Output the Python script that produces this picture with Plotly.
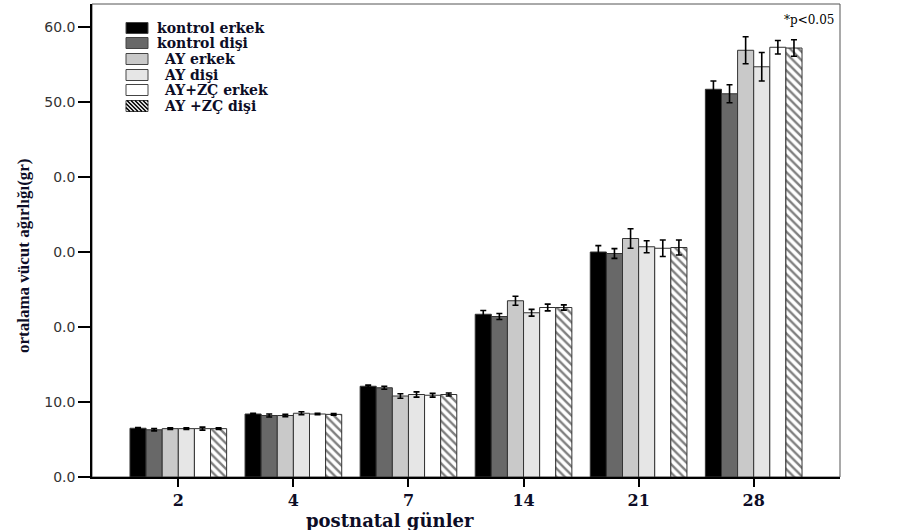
import plotly.graph_objects as go

days = ["2", "4", "7", "14", "21", "28"]
series_names = ["kontrol erkek", "kontrol dişi", "AY erkek", "AY  dişi", "AY+ZÇ erkek", "AY +ZÇ dişi"]

kontrol_erkek = [6.5, 8.4, 12.1, 21.7, 30.0, 51.7]
kontrol_disi = [6.3, 8.2, 11.9, 21.4, 29.8, 51.1]
ay_erkek = [6.45, 8.2, 10.8, 23.5, 31.8, 56.9]
ay_disi = [6.45, 8.5, 11.0, 21.9, 30.7, 54.7]
ay_zc_erkek = [6.45, 8.4, 10.9, 22.6, 30.5, 57.3]
ay_zc_disi = [6.45, 8.35, 11.0, 22.6, 30.6, 57.2]

err_kontrol_erkek = [0.1, 0.1, 0.15, 0.5, 0.85, 1.1]
err_kontrol_disi = [0.15, 0.2, 0.2, 0.4, 0.65, 1.2]
err_ay_erkek = [0.1, 0.15, 0.3, 0.6, 1.3, 1.8]
err_ay_disi = [0.1, 0.2, 0.35, 0.45, 0.8, 1.9]
err_ay_zc_erkek = [0.2, 0.1, 0.25, 0.45, 1.1, 0.9]
err_ay_zc_disi = [0.1, 0.1, 0.2, 0.35, 1.0, 1.1]

y_tickvals = [0, 10, 20, 30, 40, 50, 60]
y_ticktext = ["0.0", "10.0", "0.0", "0.0", "0.0", "50.0", "60.0"]

values = [kontrol_erkek, kontrol_disi, ay_erkek, ay_disi, ay_zc_erkek, ay_zc_disi]
errors = [err_kontrol_erkek, err_kontrol_disi, err_ay_erkek, err_ay_disi, err_ay_zc_erkek, err_ay_zc_disi]
fills = ["#000000", "#686868", "#c9c9c9", "#e6e6e6", "#ffffff", "#ffffff"]
patterns = ["", "", "", "", "", "\\"]

W, H = 918, 530
L, R, T, B = 92, 78, 4, 53
PW, PH = W - L - R, H - T - B
TXT = "#0d0d26"

def px(x):
    return (x - L) / PW

def py(y):
    return (H - B - y) / PH

xidx = list(range(len(days)))
fig = go.Figure()
for name, vals, errs, fc, pat in zip(series_names, values, errors, fills, patterns):
    marker = dict(color=fc, line=dict(color="#333333", width=1))
    if pat:
        marker["pattern"] = dict(shape=pat, fgcolor="#000000", bgcolor="#ffffff", size=6, solidity=0.4)
    fig.add_trace(go.Bar(
        x=xidx, y=vals, name=name, marker=marker, showlegend=False,
        error_y=dict(type="data", array=errs, visible=True, color="#000000", thickness=1.6, width=3),
    ))

shapes = [dict(type="rect", xref="paper", yref="paper", x0=0, x1=1, y0=0, y1=1,
               line=dict(color="#555555", width=1), layer="below")]
annotations = []

# manual legend
row_y = [28, 43, 59, 75, 90, 106]
text_x = [155, 155, 162, 162, 162, 162]
bx0, bx1, bh = 126, 148, 11
for i, (name, fc, pat) in enumerate(zip(series_names, fills, patterns)):
    yc = row_y[i]
    yt, yb = yc - bh / 2, yc + bh / 2
    shapes.append(dict(type="rect", xref="paper", yref="paper",
                       x0=px(bx0), x1=px(bx1), y0=py(yb), y1=py(yt),
                       fillcolor=fc, line=dict(color="#444444", width=1)))
    if pat:
        step = 4
        c = -bh
        while c < (bx1 - bx0):
            t0 = max(0, -c)
            t1 = min(bh, (bx1 - bx0) - c)
            if t1 > t0:
                shapes.append(dict(type="line", xref="paper", yref="paper",
                                   x0=px(bx0 + c + t0), y0=py(yt + t0),
                                   x1=px(bx0 + c + t1), y1=py(yt + t1),
                                   line=dict(color="#000000", width=1.6)))
            c += step
    annotations.append(dict(xref="paper", yref="paper", x=px(text_x[i]), y=py(yc),
                            xanchor="left", yanchor="middle", showarrow=False,
                            text=name.replace("  ", " "),
                            font=dict(family="DejaVu Serif", size=14, weight="bold", color=TXT)))

annotations.append(dict(xref="paper", yref="paper", x=px(836), y=py(20),
                        xanchor="right", yanchor="middle", showarrow=False, text="*p<0.05",
                        font=dict(family="DejaVu Serif", size=12, color="#000000")))
annotations.append(dict(xref="paper", yref="paper", x=px(23), y=py(256),
                        xanchor="center", yanchor="middle", showarrow=False, textangle=-90,
                        text="ortalama vücut ağırlığı(gr)",
                        font=dict(family="Liberation Serif", size=17, weight="bold", color=TXT)))
annotations.append(dict(xref="paper", yref="paper", x=px(390), y=py(520),
                        xanchor="center", yanchor="middle", showarrow=False,
                        text="postnatal günler",
                        font=dict(family="DejaVu Serif", size=18, weight="bold", color=TXT)))

fig.update_layout(
    width=W, height=H, margin=dict(l=L, r=R, t=T, b=B),
    paper_bgcolor="#ffffff", plot_bgcolor="#ffffff",
    barmode="group", bargap=0.16, bargroupgap=0,
    shapes=shapes, annotations=annotations, showlegend=False,
    xaxis=dict(range=[-0.75, 5.75], tickvals=xidx, ticktext=days, showgrid=False, zeroline=False,
               showline=True, linecolor="#000000", linewidth=1.5,
               ticks="outside", ticklen=8, tickwidth=1.5, tickcolor="#000000",
               tickfont=dict(family="DejaVu Serif", size=16, weight="bold", color=TXT)),
    yaxis=dict(range=[0, 63.07], tickvals=y_tickvals, ticktext=y_ticktext, showgrid=False, zeroline=False,
               showline=True, linecolor="#000000", linewidth=1.5,
               ticks="outside", ticklen=12, tickwidth=1.5, tickcolor="#000000",
               tickfont=dict(family="DejaVu Sans", size=14, color="#333333")),
)

fig.write_html("out.html")
